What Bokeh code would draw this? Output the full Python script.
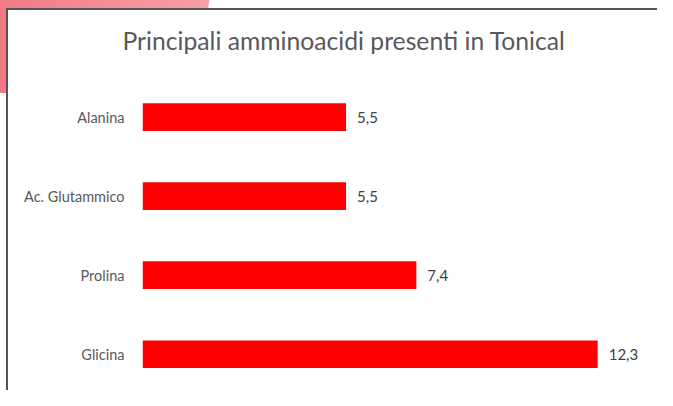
from bokeh.plotting import figure
from bokeh.models import ColumnDataSource, Range1d, FixedTicker, Title
from bokeh.core.properties import value
from bokeh.embed import file_html
from bokeh.resources import INLINE

# Data
categories = ["Alanina", "Ac. Glutammico", "Prolina", "Glicina"]
amounts = [5.5, 5.5, 7.4, 12.3]
amount_labels = [f"{v:.1f}".replace(".", ",") for v in amounts]
title_text = "Principali amminoacidi presenti in Tonical"

FONT = "Lato"

positions = list(range(len(categories)))
source = ColumnDataSource(dict(pos=positions, val=amounts, lab=amount_labels))

p = figure(
    width=657, height=390,
    y_range=Range1d(3.458, -0.5),
    x_range=Range1d(0, 13.7),
    output_backend="svg", toolbar_location=None,
    x_axis_location=None,
    min_border_left=142, min_border_right=8,
    min_border_top=76, min_border_bottom=0,
)

title = Title(text=title_text, align="left", offset=-20, standoff=46,
              vertical_align="bottom", text_font=FONT, text_font_size="24.7px",
              text_font_style="normal", text_color="#595959")
p.add_layout(title, "above")

p.hbar(y="pos", right="val", left=0, height=0.35, source=source,
       fill_color="#FF0000", line_color=None)

p.text(x="val", y="pos", text="lab", source=source, x_offset=11,
       text_baseline="middle", text_align="left",
       text_font=value(FONT), text_font_size="15px", text_color="#404040")

p.xgrid.grid_line_color = None
p.ygrid.grid_line_color = None
p.outline_line_color = None
p.background_fill_color = "white"
p.border_fill_color = None

ya = p.yaxis[0]
ya.ticker = FixedTicker(ticks=positions, minor_ticks=[])
ya.major_label_overrides = {i: c for i, c in zip(positions, categories)}
ya.axis_line_color = None
ya.major_tick_line_color = None
ya.minor_tick_line_color = None
ya.major_tick_out = 0
ya.major_tick_in = 0
ya.major_label_standoff = 18
ya.major_label_text_font = FONT
ya.major_label_text_font_size = "14.5px"
ya.major_label_text_color = "#595959"

# decorative slide frame behind the canvas: pink band and grey border
p.styles = {
    "background": ", ".join([
        "linear-gradient(#555555, #555555) 6px 8px / 100% 2px no-repeat",
        "linear-gradient(#555555, #555555) 6px 8px / 2px 100% no-repeat",
        "linear-gradient(100deg, #f27a84 0%, #f7a0a7 88%, rgba(255,255,255,0) 88.5%) 0 0 / 236px 8px no-repeat",
        "linear-gradient(#f27a84, #f27a84) 0 0 / 6px 93px no-repeat",
        "white",
    ])
}

open("out.html", "w").write(file_html(p, INLINE))
